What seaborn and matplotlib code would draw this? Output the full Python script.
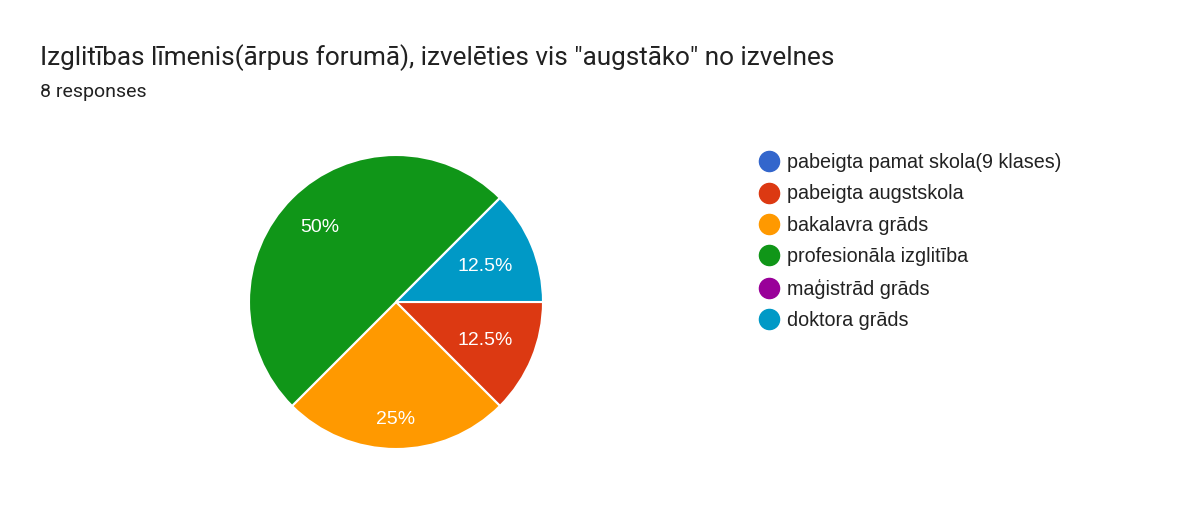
import numpy as np
import matplotlib
matplotlib.use("Agg")
import matplotlib.pyplot as plt
from matplotlib.lines import Line2D
import seaborn as sns

# data
categories = [
    "pabeigta pamat skola(9 klases)",
    "pabeigta augstskola",
    "bakalavra grāds",
    "profesionāla izglitība",
    "maģistrād grāds",
    "doktora grāds",
]
counts = [0, 1, 2, 4, 0, 1]
title = 'Izglitības līmenis(ārpus forumā), izvelēties vis "augstāko" no izvelnes'
subtitle = "8 responses"

colors = ["#3366cc", "#dc3912", "#ff9900", "#109618", "#990099", "#0099c6"]
# google places labels at slightly different radii per slice
label_radius = [0.7, 0.66, 0.79, 0.73, 0.7, 0.66]

sns.set_theme(style="white")
plt.rcParams["font.family"] = ["Liberation Sans", "DejaVu Sans"]

fig = plt.figure(figsize=(12, 5.05), dpi=100)
fig.patch.set_facecolor("white")

cx, cy, r = 396, 302, 147
W, H = 1200, 505
ax = fig.add_axes([(cx - r) / W, (H - cy - r) / H, 2 * r / W, 2 * r / H])


def fmt(p):
    if p <= 0:
        return ""
    return ("%.1f%%" % p).replace(".0%", "%")


wedges, texts, autotexts = ax.pie(
    counts,
    colors=colors,
    startangle=0,
    counterclock=False,
    autopct=fmt,
    pctdistance=0.7,
    radius=1,
    wedgeprops=dict(edgecolor="white", linewidth=1.5),
    textprops=dict(color="white", fontsize=14),
)
for w, t, d in zip(wedges, autotexts, label_radius):
    ang = np.deg2rad((w.theta1 + w.theta2) / 2)
    t.set_position((d * np.cos(ang), d * np.sin(ang) - 0.012))
    t.set_ha("center")
    t.set_va("center")
ax.set_xlim(-1, 1)
ax.set_ylim(-1, 1)
ax.axis("off")

fig.text(40 / W, 1 - 58 / H, title, fontsize=18.8, family=["Roboto", "DejaVu Sans"],
         color="#212121", va="center", ha="left")
fig.text(40 / W, 1 - 92 / H, subtitle, fontsize=14, family=["Roboto", "DejaVu Sans"],
         color="#212121", va="center", ha="left")

handles = [
    Line2D([], [], marker="o", linestyle="none", markersize=14.5,
           markerfacecolor=c, markeredgecolor=c)
    for c in colors
]
leg = fig.legend(
    handles,
    categories,
    loc="upper left",
    bbox_to_anchor=(759 / W, 1 - 153 / H),
    frameon=False,
    fontsize=14.2,
    labelspacing=0.63,
    handlelength=1.0,
    handletextpad=0.42,
    borderaxespad=0,
    borderpad=0,
)
for t in leg.get_texts():
    t.set_color("#222222")

fig.savefig("out.png", dpi=100, facecolor="white")
